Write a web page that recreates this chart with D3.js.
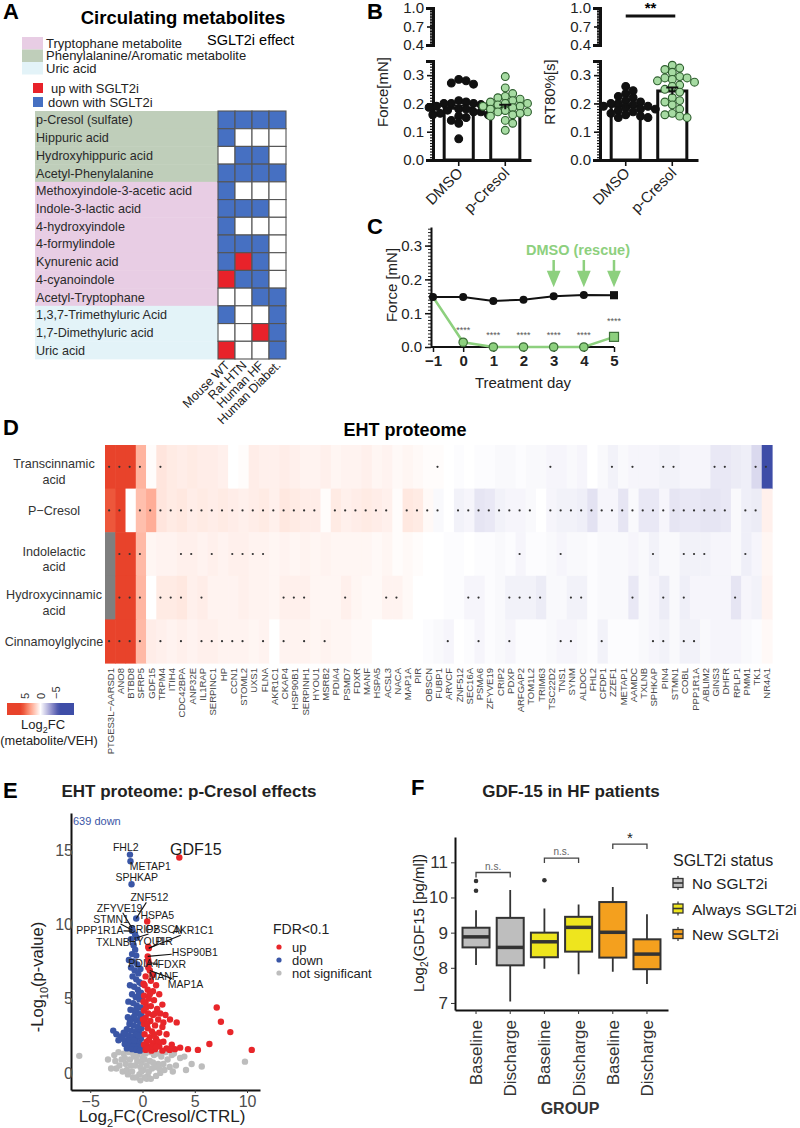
<!DOCTYPE html>
<html>
<head>
<meta charset="utf-8">
<title>Circulating metabolites, EHT proteome, GDF-15</title>
<script src="https://cdn.jsdelivr.net/npm/d3@7"></script>
<style>
  body { margin: 0; background: #fff; }
  svg { display: block; font-family: "Liberation Sans", Arial, Helvetica, sans-serif; }
  .letter { font-size: 22px; font-weight: bold; fill: #000; }
</style>
</head>
<body>
<div id="figure"></div>
<script>
// ---------- A: circulating metabolites ----------
var metabolites = ['p-Cresol (sulfate)', 'Hippuric acid', 'Hydroxyhippuric acid', 'Acetyl-Phenylalanine',
  'Methoxyindole-3-acetic acid', 'Indole-3-lactic acid', '4-hydroxyindole', '4-formylindole',
  'Kynurenic acid', '4-cyanoindole', 'Acetyl-Tryptophane', '1,3,7-Trimethyluric Acid',
  '1,7-Dimethyluric acid', 'Uric acid'];
var metaboliteClass = ['phe', 'phe', 'phe', 'phe', 'trp', 'trp', 'trp', 'trp', 'trp', 'trp', 'trp', 'uric', 'uric', 'uric'];
var classKeys = ['trp', 'phe', 'uric'];
var classNames = ['Tryptophane metabolite', 'Phenylalanine/Aromatic metabolite', 'Uric acid'];
var studies = ['Mouse WT', 'Rat HTN', 'Human HF', 'Human Diabet.'];
// 1 = up with SGLT2i, -1 = down with SGLT2i, 0 = unchanged
var sglt2Effect = [
  [-1, -1, -1, -1],
  [-1, 0, 0, 0],
  [0, -1, -1, 0],
  [-1, -1, -1, -1],
  [-1, 0, 0, 0],
  [-1, -1, -1, 0],
  [-1, 0, 0, 0],
  [-1, -1, -1, 0],
  [-1, 1, -1, 0],
  [1, -1, -1, 0],
  [0, 0, -1, -1],
  [-1, 0, 0, -1],
  [0, 0, 1, -1],
  [1, 0, 0, -1]
];

// ---------- B: p-Cresol on EHT ----------
var bGroups = ['DMSO', 'p-Cresol'];
var forceMean = [0.183, 0.187];
var forceSem = [0.009, 0.008];
var forceDmso = [0.285, 0.28, 0.272, 0.268, 0.21, 0.205, 0.2, 0.2, 0.196, 0.19, 0.186, 0.18, 0.176, 0.17,
  0.165, 0.16, 0.155, 0.15, 0.14, 0.13, 0.075, 0.2, 0.19, 0.18, 0.17, 0.16];
var forceCresol = [0.295, 0.255, 0.235, 0.225, 0.22, 0.215, 0.21, 0.205, 0.2, 0.2, 0.195, 0.19, 0.185,
  0.18, 0.175, 0.17, 0.165, 0.16, 0.155, 0.14, 0.13, 0.105, 0.17, 0.19];
var rt80Mean = [0.19, 0.244];
var rt80Sem = [0.006, 0.012];
var rt80Dmso = [0.26, 0.245, 0.235, 0.225, 0.22, 0.21, 0.205, 0.2, 0.2, 0.195, 0.19, 0.185, 0.18, 0.175,
  0.17, 0.165, 0.16, 0.155, 0.15, 0.15, 0.19, 0.18];
var rt80Cresol = [0.335, 0.325, 0.32, 0.31, 0.295, 0.29, 0.29, 0.285, 0.28, 0.275, 0.265, 0.26, 0.25,
  0.24, 0.22, 0.21, 0.205, 0.195, 0.18, 0.165, 0.16, 0.155, 0.15];

// ---------- C: rescue time course ----------
var days = [-1, 0, 1, 2, 3, 4, 5];
var dmsoForce = [0.148, 0.148, 0.136, 0.14, 0.15, 0.154, 0.153];
var cresolForce = [0.148, 0.014, 0, 0, 0, 0, 0.03];
var cresolStars = ['', '****', '****', '****', '****', '****', '****'];
var rescueDays = [3, 4, 5];

// ---------- D: EHT proteome heatmap ----------
var genes = ['PTGES3L\u2212AARSD1', 'ANO8', 'BTBD8', 'SFRP5', 'GDF15', 'TRPM4', 'ITIH4', 'CDC42BPA', 'ANP32E',
  'IL1RAP', 'SERPINC1', 'HP', 'CCN1', 'STOML2', 'UXS1', 'FLNA', 'AKR1C1', 'CKAP4', 'HSP90B1', 'SERPINH1',
  'HYOU1', 'MSRB2', 'PDIA4', 'PSMD7', 'FDXR', 'MANF', 'HSPA5', 'ACSL3', 'NACA', 'MAP1A', 'PIR', 'OBSCN',
  'FUBP1', 'ARVCF', 'ZNF512', 'SEC16A', 'PSMA6', 'ZFYVE19', 'CRIP2', 'PDXP', 'ARFGAP2', 'TOM1L2', 'TRIM63',
  'TSC22D2', 'TNS1', 'SYNM', 'ALDOC', 'FHL2', 'CFDP1', 'ZZEF1', 'METAP1', 'AAMDC', 'TXLNB', 'SPHKAP', 'PIN4',
  'STMN1', 'COBL', 'PPP1R1A', 'ABLIM2', 'GINS3', 'DHFR', 'RPLP1', 'PMM1', 'TK1', 'NR4A1'];
var heatRows = ['Transcinnamic acid', 'P-Cresol', 'Indolelactic acid', 'Hydroxycinnamic acid', 'Cinnamoylglycine'];
var heatRowLines = [['Transcinnamic', 'acid'], ['P\u2212Cresol'], ['Indolelactic', 'acid'], ['Hydroxycinnamic', 'acid'], ['Cinnamoylglycine']];
var fcTranscinnamic = [6.2, 6.0, 7.0, 2.6, 0.1, 0.9, 0.7, 0.6, 0.7, 0.6, 0.6, 0.5, 0.0, 0.1, 0.6, 0.5, 0.5, 0.6, 0.5, 0.4,
  0.4, 0.5, 0.3, 0.4, 0.4, 0.5, 0.3, 0.4, 0.2, 0.3, 0.2, 0.1, 0.1, 0.0, -0.1, 0.0, -0.1, -0.1, -0.2, -0.2,
  -0.1, -0.2, -0.2, -0.3, -0.3, -0.2, -0.3, 0.0, -0.2, -0.4, -0.2, -0.3, -0.3, -0.3, -0.4, -0.4, -0.3, -0.3, -0.3, -0.7,
  -0.7, -0.6, -0.5, -1.2, -7.0];
var fcCresol = [5.5, 6.5, 0.0, 2.2, 2.8, 0.9, 0.7, 0.8, 0.6, 0.7, 0.6, 0.7, 0.6, 0.5, 0.6, 0.7, 0.5, 0.8, 0.7, 0.6,
  0.6, 0.1, 0.7, 0.5, 0.6, 0.7, 0.6, 0.5, 0.1, 0.8, 0.7, 0.2, -0.2, 0.0, -0.4, -0.3, -0.8, -0.7, -0.4, -0.3,
  -0.3, -0.2, 0.0, -0.3, -0.4, -0.4, -0.5, -0.9, -0.3, -0.3, -0.8, -0.2, -0.7, -0.7, -0.3, -0.8, -0.7, -0.7, -0.8, -0.8,
  -0.7, -0.2, -0.5, -0.6, 0.5];
var fcIndolelactic = [null, 6.2, 6.0, 2.4, 0.3, 0.4, 0.4, 0.5, 0.5, 0.4, 0.5, 0.4, 0.5, 0.5, 0.4, 0.4, 0.3, 0.4, 0.3, 0.4,
  0.3, 0.4, 0.3, 0.3, 0.3, 0.3, 0.2, 0.3, 0.1, 0.2, 0.1, 0.0, 0.0, -0.1, -0.1, 0.0, -0.1, -0.1, -0.2, -0.1,
  -0.3, -0.1, -0.1, -0.2, -0.3, -0.2, -0.2, -0.1, -0.2, -0.2, -0.2, -0.3, -0.2, -0.4, -0.2, -0.2, -0.4, -0.4, -0.4, -0.3,
  -0.3, -0.2, -0.5, -0.3, 0.3];
var fcHydroxycinnamic = [null, 6.3, 7.2, 2.5, 0.0, 0.7, 0.7, 0.8, 0.5, 0.6, 0.4, 0.4, 0.4, 0.5, 0.4, 0.4, 0.3, 0.5, 0.5, 0.5,
  0.3, 0.3, 0.3, 0.5, 0.3, 0.2, 0.2, 0.4, 0.4, 0.2, 0.0, 0.0, 0.0, -0.1, -0.1, -0.3, -0.3, -0.1, -0.2, -0.4,
  -0.4, -0.4, -0.6, -0.2, -0.2, -0.4, -0.4, -0.1, -0.2, -0.2, -0.2, -0.7, -0.2, -0.3, -0.6, -0.2, -0.5, -0.3, -0.3, -0.3,
  -0.3, -0.8, -0.3, -0.4, 0.4];
var fcCinnamoylglycine = [7.0, 7.2, 6.5, 2.4, 0.6, 0.5, 0.4, 0.5, 0.4, 0.5, 0.5, 0.4, 0.4, 0.4, 0.3, 0.4, 0.0, 0.4, 0.4, 0.4,
  0.3, 0.4, 0.3, 0.3, 0.2, 0.2, 0.0, 0.0, 0.0, 0.0, 0.0, -0.1, -0.2, -0.3, 0.0, -0.1, -0.3, -0.1, -0.2, -0.3,
  -0.1, -0.1, -0.1, -0.2, -0.3, -0.3, -0.2, -0.1, -0.4, -0.1, -0.1, -0.1, -0.2, -0.3, -0.4, -0.2, -0.4, -0.4, -0.2, -0.3,
  -0.3, -0.3, -0.2, -0.1, 0.2];
var sigTranscinnamic = [0, 1, 2, 3, 5, 32, 43, 49, 51, 54, 55, 59, 60, 63, 64];
var sigCresol = [0, 1, 3, 4, 5, 6, 7, 8, 9, 10, 11, 12, 13, 14, 15, 16, 17, 18, 19, 20, 22, 23, 24, 25, 26, 27, 29, 30, 31, 32,
  34, 35, 36, 37, 38, 39, 40, 41, 43, 44, 45, 46, 47, 48, 49, 50, 51, 52, 53, 54, 55, 56, 57, 58, 59, 60, 62, 63];
var sigIndolelactic = [1, 2, 3, 7, 8, 10, 12, 13, 14, 15, 40, 44, 53, 56, 57, 58, 62];
var sigHydroxycinnamic = [1, 2, 3, 5, 6, 7, 9, 17, 18, 19, 23, 27, 28, 35, 36, 39, 40, 41, 42, 45, 46, 51, 54, 56, 61];
var sigCinnamoylglycine = [0, 1, 2, 3, 5, 7, 9, 10, 11, 12, 13, 15, 17, 19, 21, 33, 36, 39, 44, 45, 48, 53, 54, 56, 57];
var legendTicks = [5, 0, -5];

// ---------- E: volcano ----------
var upPoints = [[3.52, 14.5], [0.45, 10.2], [0.6, 8.4], [0.55, 8.5], [0.5, 7.85], [0.55, 7.6], [0.6, 7.4], [0.55, 7.1],
  [0.7, 6.9], [1.0, 6.6], [0.3, 6.5], [0.8, 6.2], [1.3, 5.9], [0.2, 5.9], [0.5, 5.6], [1.0, 5.5], [1.6, 5.3],
  [0.15, 5.2], [0.6, 5.0], [1.1, 4.9], [0.3, 4.7], [1.9, 4.6], [0.8, 4.5], [1.4, 4.3], [0.15, 4.2], [0.55, 4.0],
  [1.0, 3.9], [2.2, 3.9], [0.3, 3.7], [1.5, 3.6], [0.75, 3.5], [2.63, 3.6], [3.27, 3.4], [0.15, 3.3], [1.2, 3.2],
  [1.9, 3.1], [0.5, 3.0], [0.9, 2.8], [1.6, 2.7], [2.3, 2.6], [0.2, 2.6], [0.7, 2.4], [1.3, 2.3], [0.4, 2.1],
  [2.0, 2.1], [1.0, 2.0], [0.15, 1.9], [2.8, 1.9], [1.6, 1.8], [0.6, 1.75], [2.3, 1.65], [1.2, 1.6], [0.3, 1.55],
  [3.1, 1.6], [1.9, 1.5], [0.85, 1.5], [2.6, 1.55], [3.6, 1.7], [4.35, 1.6], [5.3, 1.55], [6.4, 1.95], [7.1, 4.4],
  [7.5, 3.45], [8.4, 2.75], [10.45, 1.55], [0.1, 4.8], [0.1, 6.0], [0.05, 3.6], [0.35, 4.4], [0.7, 5.3], [1.2, 4.0],
  [0.45, 3.3], [1.1, 2.6], [0.6, 2.2], [1.5, 2.1], [0.9, 1.8], [0.4, 1.65], [1.7, 4.0], [2.0, 3.4], [1.3, 1.75]];
var downPoints = [[-1.2, 14.7], [-1.15, 14.25], [-1.05, 12.7], [-0.6, 10.4], [-1.0, 9.75], [-0.95, 9.6], [-1.0, 9.55],
  [-0.7, 9.3], [-0.55, 9.1], [-1.1, 9.0], [-0.85, 8.6], [-0.7, 8.3], [-1.0, 8.0], [-0.6, 7.9], [-1.3, 7.6], [-0.9, 7.5],
  [-0.5, 7.3], [-1.1, 7.1], [-0.75, 6.9], [-0.4, 6.7], [-0.95, 6.5], [-0.6, 6.3], [-0.3, 6.1], [-1.2, 5.9], [-0.8, 5.8],
  [-0.45, 5.6], [-0.15, 5.4], [-1.0, 5.3], [-0.65, 5.1], [-0.3, 4.95], [-1.35, 4.8], [-0.9, 4.7], [-0.55, 4.55],
  [-0.15, 4.4], [-1.15, 4.25], [-0.75, 4.15], [-0.4, 4.0], [-0.1, 3.9], [-1.4, 3.75], [-1.0, 3.65], [-0.6, 3.55],
  [-0.25, 3.45], [-1.25, 3.3], [-0.85, 3.2], [-0.45, 3.1], [-0.1, 3.0], [-1.5, 2.95], [-1.1, 2.85], [-0.7, 2.8],
  [-0.3, 2.7], [-1.6, 2.6], [-1.3, 2.5], [-0.9, 2.45], [-0.5, 2.4], [-0.15, 2.3], [-1.45, 2.2], [-1.05, 2.1],
  [-0.65, 2.05], [-0.3, 2.0], [-1.7, 1.95], [-1.25, 1.85], [-0.85, 1.8], [-0.45, 1.75], [-0.1, 1.7], [-1.5, 1.65],
  [-1.0, 1.6], [-0.6, 1.55], [-0.25, 1.5], [-2.8, 2.85], [-2.5, 2.6], [-2.1, 2.45], [-2.3, 2.2], [-1.9, 2.3],
  [-1.8, 2.7], [-0.05, 5.0], [-0.1, 6.0], [-0.2, 7.0], [-0.35, 5.3], [-0.6, 4.3], [-0.8, 3.8], [-0.2, 3.7],
  [-1.2, 3.5], [-0.55, 2.6], [-1.2, 2.2], [-0.8, 2.2], [-0.35, 2.5]];
var nsPoints = [[-6.05, 1.15], [9.8, 0.76], [5.67, 0.43], [4.16, 0.2], [-3.3, 0.9], [-2.7, 1.2], [-2.2, 0.5], [-1.8, 1.3],
  [-1.5, 0.2], [-1.2, 0.9], [-0.9, -0.3], [-0.7, 0.5], [-0.5, 1.2], [-0.3, -0.1], [-0.1, 0.7], [0.1, 0.2], [0.3, 1.3],
  [0.5, -0.2], [0.7, 0.8], [0.9, 0.3], [1.1, 1.2], [1.3, -0.2], [1.5, 0.6], [1.8, 1.1], [2.1, 0.2], [2.4, 0.9],
  [2.8, 1.2], [3.2, 0.5], [3.6, 1.0], [-2.5, 0.3], [-2.0, 0.9], [-1.6, 0.6], [-1.0, 0.1], [-0.8, 1.1], [-0.2, 0.4],
  [0.2, 0.9], [0.4, -0.4], [0.6, 0.1], [1.0, 0.7], [1.4, 1.3], [2.0, 0.6], [2.6, 0.4], [-1.3, 1.4], [-0.4, 1.4],
  [0.8, 1.4], [1.7, 0.0], [-0.6, -0.3], [-1.9, 0.1], [3.0, 1.3], [4.0, 1.1], [-3.0, 0.3], [-0.2, -0.5], [0.2, -0.3],
  [1.2, 0.4], [-1.1, 0.5], [-0.5, 0.8], [0.0, 1.0], [0.4, 0.5], [2.2, 1.4], [-2.3, 1.4], [4.7, 0.6], [-1.4, -0.1],
  [-0.1, 0.1], [0.8, -0.4], [1.6, 0.3], [-0.9, 1.3], [-2.6, 0.8], [2.9, 0.1], [-1.7, 1.0], [0.1, 1.4]];
var volcanoLabels = ['GDF15', 'FHL2', 'METAP1', 'SPHKAP', 'ZNF512', 'ZFYVE19', 'HSPA5', 'STMN1', 'PPP1R1A', 'CRIP2',
  'OBSCN', 'AKR1C1', 'TXLNB', 'HYOU1', 'PIR', 'HSP90B1', 'PDIA4', 'FDXR', 'MANF', 'MAP1A'];
var volcanoLabelPoint = [[3.52, 14.5], [-1.2, 14.7], [-1.15, 14.25], [-1.05, 12.7], [-0.6, 10.4], [-1.0, 9.75],
  [0.45, 10.2], [-0.95, 9.6], [-1.0, 9.55], [-0.7, 9.3], [-0.55, 9.1], [0.6, 8.4], [-1.1, 9.0], [0.55, 8.5],
  [0.6, 8.4], [0.5, 7.85], [0.55, 7.6], [0.6, 7.4], [0.55, 7.1], [0.7, 6.9]];
var volcanoLabelText = [[5.1, 15.05], [-1.6, 15.2], [0.75, 13.9], [-0.55, 13.15], [0.66, 11.8], [-2.19, 11.1],
  [1.41, 10.63], [-3.0, 10.34], [-4.08, 9.58], [0.1, 9.67], [2.06, 9.67], [4.84, 9.58], [-2.84, 8.77], [0.43, 8.84],
  [2.06, 8.84], [5.0, 8.1], [0.1, 7.38], [2.81, 7.34], [2.0, 6.53], [4.12, 5.99]];
var fdrClasses = ['up', 'down', 'not significant'];

// ---------- F: GDF-15 boxplots ----------
var fStatus = ['No SGLT2i', 'No SGLT2i', 'Always SGLT2i', 'Always SGLT2i', 'New SGLT2i', 'New SGLT2i'];
var fTime = ['Baseline', 'Discharge', 'Baseline', 'Discharge', 'Baseline', 'Discharge'];
var fLow = [8.08, 7.04, 7.97, 7.82, 7.89, 7.54];
var fQ1 = [8.58, 8.07, 8.3, 8.46, 8.29, 7.96];
var fMedian = [8.88, 8.58, 8.74, 9.15, 9.01, 8.39];
var fQ3 = [9.14, 9.42, 9.0, 9.45, 9.87, 8.81];
var fHigh = [9.64, 10.21, 9.69, 9.8, 10.3, 9.52];
var fOutliers = [[0, 10.47], [0, 10.19], [2, 10.49]];
var fBrackets = [[0, 1, 'n.s.', 10.71], [2, 3, 'n.s.', 11.12], [4, 5, '*', 11.52]];
var statusNames = ['No SGLT2i', 'Always SGLT2i', 'New SGLT2i'];
var statusColors = ['#BEBEBE', '#EEE51E', '#F4A01E'];

var svg = d3.select('#figure').append('svg').attr('width', 800).attr('height', 1128);

function letter(x, y, t) {
    svg.append('text').attr('class', 'letter').attr('x', x).attr('y', y).text(t);
}

function panelA() {
    var g = svg.append('g');
    letter(3, 19, 'A');
    g.append('text').attr('x', 183).attr('y', 24).attr('text-anchor', 'middle')
        .style('font-size', '18.5px').style('font-weight', 'bold').text('Circulating metabolites');
    g.append('text').attr('x', 207).attr('y', 45).style('font-size', '14.5px').text('SGLT2i effect');

    var classColor = d3.scaleOrdinal().domain(classKeys).range(['#E8CDE4', '#BFCEBA', '#E3F3F8']);
    var yLeg = d3.scaleBand().domain(classKeys).range([37, 74.5]);
    g.selectAll('.cls-key').data(classKeys).enter().append('rect')
        .attr('x', 22).attr('y', d => yLeg(d)).attr('width', 21).attr('height', yLeg.bandwidth())
        .attr('fill', d => classColor(d));
    g.selectAll('.cls-txt').data(classKeys).enter().append('text')
        .attr('x', 46).attr('y', d => yLeg(d) + yLeg.bandwidth() / 2 + 4.5)
        .style('font-size', '13px').attr('fill', '#222')
        .text((d, i) => classNames[i]);

    var effColor = d3.scaleOrdinal().domain([1, -1, 0]).range(['#E8222A', '#4670C2', '#ffffff']);
    g.append('rect').attr('x', 33).attr('y', 83).attr('width', 10).attr('height', 10).attr('fill', effColor(1));
    g.append('text').attr('x', 51).attr('y', 93).style('font-size', '13px').attr('fill', '#222').text('up with SGLT2i');
    g.append('rect').attr('x', 33).attr('y', 97).attr('width', 10).attr('height', 10).attr('fill', effColor(-1));
    g.append('text').attr('x', 48).attr('y', 107).style('font-size', '13px').attr('fill', '#222').text('down with SGLT2i');

    var y = d3.scaleBand().domain(metabolites).range([111, 359]);
    var x = d3.scaleBand().domain(studies).range([218, 286]);

    g.selectAll('.row-bg').data(metabolites).enter().append('rect')
        .attr('x', 35).attr('y', d => y(d)).attr('width', 183).attr('height', y.bandwidth() + 0.4)
        .attr('fill', (d, i) => classColor(metaboliteClass[i]));
    g.selectAll('.row-txt').data(metabolites).enter().append('text')
        .attr('x', 36).attr('y', d => y(d) + y.bandwidth() / 2 + 4.5)
        .style('font-size', '12.6px').attr('fill', '#2a2a2a').text(d => d);

    metabolites.forEach(function(m, i) {
        g.selectAll('.cell-' + i).data(sglt2Effect[i]).enter().append('rect')
            .attr('x', (d, j) => x(studies[j])).attr('y', y(m))
            .attr('width', x.bandwidth()).attr('height', y.bandwidth())
            .attr('fill', d => effColor(d)).attr('stroke', '#555').attr('stroke-width', 1.1);
    });

    g.selectAll('.study').data(studies).enter().append('text')
        .attr('text-anchor', 'end').style('font-size', '12.5px').attr('fill', '#222')
        .attr('transform', d => `translate(${x(d) + x.bandwidth() / 2 + 4},366) rotate(-45)`)
        .text(d => d);
}

function swarm(values, y, cx, r) {
    var placed = [];
    return values.slice().sort(d3.descending).map(function(v) {
        var py = y(v);
        var px = cx;
        for (var k = 0; k < 24; k++) {
            var off = Math.ceil(k / 2) * r * 0.95 * (k % 2 ? 1 : -1);
            var cand = cx + off;
            if (placed.every(p => Math.hypot(p[0] - cand, p[1] - py) >= 2 * r - 1)) { px = cand; break; }
        }
        placed.push([px, py]);
        return [px, py];
    });
}

function barPanel(axisX, label, means, sems, dmso, cresol, signif) {
    var g = svg.append('g');
    var yLow = d3.scaleLinear().domain([0, 0.35]).range([160, 61]);
    var yHigh = d3.scaleLinear().domain([0.4, 1.0]).range([45, 8]);
    var x = d3.scaleBand().domain(bGroups).range([axisX, axisX + 98]).paddingInner(0.375).paddingOuter(0.24);

    function styleAxis(sel) {
        sel.select('.domain').attr('stroke', '#111').attr('stroke-width', 3);
        sel.selectAll('.tick line').attr('stroke', '#111').attr('stroke-width', 1.6);
        sel.selectAll('.tick text').style('font-size', '15px').attr('fill', '#222');
    }
    g.append('g').attr('transform', `translate(${axisX},0)`)
        .call(d3.axisLeft(yLow).tickValues(d3.range(0, 0.351, 0.01)).tickSize(3).tickFormat(''))
        .call(s => s.select('.domain').remove())
        .selectAll('line').attr('stroke', '#111').attr('stroke-width', 1.2);
    g.append('g').attr('transform', `translate(${axisX},0)`)
        .call(d3.axisLeft(yLow).tickValues([0, 0.1, 0.2, 0.3]).tickSize(6).tickSizeOuter(7).tickFormat(d3.format('.1f')))
        .call(styleAxis);
    g.append('g').attr('transform', `translate(${axisX},0)`)
        .call(d3.axisLeft(yHigh).tickValues(d3.range(0.4, 1.001, 0.025)).tickSize(3).tickFormat(''))
        .call(s => s.select('.domain').remove())
        .selectAll('line').attr('stroke', '#111').attr('stroke-width', 1.2);
    g.append('g').attr('transform', `translate(${axisX},0)`)
        .call(d3.axisLeft(yHigh).tickValues([0.4, 0.7, 1.0]).tickSize(6).tickSizeOuter(7).tickFormat(d3.format('.1f')))
        .call(styleAxis);

    g.append('g').attr('transform', 'translate(0,160)')
        .call(d3.axisBottom(x).tickSize(6).tickSizeOuter(0).tickFormat(''))
        .call(styleAxis);
    g.selectAll('.xlab').data(bGroups).enter().append('text')
        .attr('text-anchor', 'end').style('font-size', '15px').attr('fill', '#222')
        .attr('transform', d => `translate(${x(d) + x.bandwidth() / 2 + 5},174) rotate(-45)`)
        .text(d => d);

    g.append('text').attr('text-anchor', 'middle').style('font-size', '15px').attr('fill', '#222')
        .attr('transform', `translate(${axisX - 45},92) rotate(-90)`).text(label);

    g.selectAll('.bar').data(means).enter().append('rect')
        .attr('x', (d, i) => x(bGroups[i])).attr('y', d => yLow(d))
        .attr('width', x.bandwidth()).attr('height', d => yLow(0) - yLow(d))
        .attr('fill', '#fff').attr('stroke', '#111').attr('stroke-width', 3);

    var cols = [dmso, cresol];
    cols.forEach(function(vals, i) {
        var cx = x(bGroups[i]) + x.bandwidth() / 2;
        g.selectAll('.dot' + i).data(swarm(vals, yLow, cx, 3.9)).enter().append('circle')
            .attr('cx', d => d[0]).attr('cy', d => d[1]).attr('r', 3.9)
            .attr('fill', i === 0 ? '#111' : '#A6DBA2')
            .attr('stroke', i === 0 ? '#111' : '#2F5F2F').attr('stroke-width', 1.1);
    });

    means.forEach(function(m, i) {
        var cx = x(bGroups[i]) + x.bandwidth() / 2;
        g.append('path').attr('fill', 'none').attr('stroke', '#111').attr('stroke-width', 2)
            .attr('d', `M${cx},${yLow(m - sems[i])}V${yLow(m + sems[i])}M${cx - 6},${yLow(m + sems[i])}H${cx + 6}`);
    });

    if (signif) {
        var x1 = x(bGroups[0]) + x.bandwidth() / 2, x2 = x(bGroups[1]) + x.bandwidth() / 2 + 3;
        g.append('line').attr('x1', x1).attr('x2', x2).attr('y1', 16).attr('y2', 16)
            .attr('stroke', '#111').attr('stroke-width', 3);
        g.append('text').attr('x', (x1 + x2) / 2).attr('y', 13).attr('text-anchor', 'middle')
            .style('font-size', '15px').style('font-weight', 'bold').text(signif);
    }
}

function panelB() {
    letter(367, 19, 'B');
    barPanel(433, 'Force[mN]', forceMean, forceSem, forceDmso, forceCresol, null);
    barPanel(600, 'RT80%[s]', rt80Mean, rt80Sem, rt80Dmso, rt80Cresol, '**');
}

function panelC() {
    letter(367, 234, 'C');
    var g = svg.append('g');
    var green = '#8DD07E';
    var y = d3.scaleLinear().domain([0, 0.355]).range([347, 227]);
    var x = d3.scaleLinear().domain([-1, 5]).range([433, 614]);

    g.append('g').attr('transform', 'translate(431,0)')
        .call(d3.axisLeft(y).tickValues(d3.range(0, 0.351, 0.01)).tickSize(3).tickFormat(''))
        .call(s => s.select('.domain').remove())
        .selectAll('line').attr('stroke', '#222').attr('stroke-width', 1);
    var ya = g.append('g').attr('transform', 'translate(431,0)')
        .call(d3.axisLeft(y).tickValues([0, 0.1, 0.2, 0.3]).tickSize(6).tickSizeOuter(0).tickFormat(d3.format('.1f')));
    ya.select('.domain').attr('stroke', '#111').attr('stroke-width', 2);
    ya.selectAll('.tick line').attr('stroke', '#111').attr('stroke-width', 1.5);
    ya.selectAll('.tick text').style('font-size', '15px').attr('fill', '#222');

    var xa = g.append('g').attr('transform', 'translate(0,347)')
        .call(d3.axisBottom(x).tickValues(days).tickSize(5).tickSizeOuter(0).tickFormat(d3.format('d')));
    xa.select('.domain').attr('stroke', '#111').attr('stroke-width', 2).attr('d', 'M431,0H614');
    xa.selectAll('.tick line').attr('stroke', '#111').attr('stroke-width', 1.5);
    xa.selectAll('.tick text').style('font-size', '15px').style('font-weight', 'bold').attr('fill', '#222');

    g.append('text').attr('text-anchor', 'middle').style('font-size', '15px').attr('fill', '#222')
        .attr('transform', 'translate(397,285) rotate(-90)').text('Force [mN]');
    g.append('text').attr('x', 523).attr('y', 388).attr('text-anchor', 'middle')
        .style('font-size', '15px').attr('fill', '#222').text('Treatment day');

    var line = d3.line().x((d, i) => x(days[i])).y(d => y(d));
    g.append('path').datum(cresolForce).attr('d', line).attr('fill', 'none').attr('stroke', green).attr('stroke-width', 2.5);
    g.append('path').datum(dmsoForce).attr('d', line).attr('fill', 'none').attr('stroke', '#111').attr('stroke-width', 2);

    var last = days.length - 1;
    g.append('path').attr('stroke', '#111').attr('stroke-width', 2)
        .attr('d', `M${x(5)},${y(dmsoForce[last] - 0.008)}V${y(dmsoForce[last] + 0.008)}M${x(5) - 4},${y(dmsoForce[last] + 0.008)}H${x(5) + 4}M${x(5) - 4},${y(dmsoForce[last] - 0.008)}H${x(5) + 4}`);
    g.selectAll('.dm').data(dmsoForce.slice(0, last)).enter().append('circle')
        .attr('cx', (d, i) => x(days[i])).attr('cy', d => y(d)).attr('r', 4).attr('fill', '#111');
    g.append('rect').attr('x', x(5) - 4).attr('y', y(dmsoForce[last]) - 4).attr('width', 8).attr('height', 8).attr('fill', '#111');

    g.selectAll('.cr').data(cresolForce.slice(1, last)).enter().append('circle')
        .attr('cx', (d, i) => x(days[i + 1])).attr('cy', d => y(d)).attr('r', 4.2)
        .attr('fill', green).attr('stroke', '#3C6E37').attr('stroke-width', 1.2);
    g.append('rect').attr('x', x(5) - 4.5).attr('y', y(cresolForce[last]) - 4.5).attr('width', 9).attr('height', 9)
        .attr('fill', green).attr('stroke', '#3C6E37').attr('stroke-width', 1.2);

    g.selectAll('.stars').data(cresolStars).enter().append('text')
        .attr('x', (d, i) => x(days[i])).attr('y', (d, i) => y(cresolForce[i]) - (i === last ? 13 : 9))
        .attr('text-anchor', 'middle').style('font-size', '9px').attr('fill', '#555').text(d => d);

    g.append('text').attr('x', 578).attr('y', 255).attr('text-anchor', 'middle')
        .style('font-size', '14.5px').style('font-weight', 'bold').attr('fill', green).text('DMSO (rescue)');
    g.selectAll('.arrow').data(rescueDays).enter().append('path')
        .attr('fill', green).attr('stroke', green).attr('stroke-width', 2.5)
        .attr('d', d => `M${x(d)},260V273M${x(d) - 5},272L${x(d) + 5},272L${x(d)},284Z`);
}

function panelD() {
    letter(3, 435, 'D');
    var g = svg.append('g');
    g.append('text').attr('x', 405).attr('y', 436).attr('text-anchor', 'middle')
        .style('font-size', '18px').style('font-weight', 'bold').text('EHT proteome');

    var values = [fcTranscinnamic, fcCresol, fcIndolelactic, fcHydroxycinnamic, fcCinnamoylglycine];
    var sig = [sigTranscinnamic, sigCresol, sigIndolelactic, sigHydroxycinnamic, sigCinnamoylglycine];
    var x = d3.scaleBand().domain(genes).range([105, 772]);
    var y = d3.scaleBand().domain(heatRows).range([445, 663]);
    var color = d3.scaleLinear().domain([-6, 0, 6]).range(['#3E4DA7', '#ffffff', '#E8432B'])
        .interpolate(d3.interpolateLab).clamp(true);

    heatRows.forEach(function(r, i) {
        g.selectAll('.c' + i).data(values[i]).enter().append('rect')
            .attr('x', (d, j) => x(genes[j])).attr('y', y(r))
            .attr('width', x.bandwidth() + 0.6).attr('height', y.bandwidth() + 0.6)
            .attr('fill', d => d === null ? '#7F7F7F' : color(d));
        g.selectAll('.s' + i).data(sig[i]).enter().append('circle')
            .attr('cx', d => x(genes[d]) + x.bandwidth() / 2 - 1).attr('cy', y(r) + y.bandwidth() / 2)
            .attr('r', 1.1).attr('fill', '#333');
    });

    heatRowLines.forEach(function(lines, i) {
        var cy = y(heatRows[i]) + y.bandwidth() / 2;
        var t = g.append('text').attr('text-anchor', 'middle').style('font-size', '12.6px').attr('fill', '#333');
        lines.forEach(function(l, k) {
            t.append('tspan').attr('x', 54).attr('y', cy + 4.5 + (lines.length > 1 ? -3 + k * 15.5 : 0)).text(l);
        });
    });

    g.selectAll('.gene').data(genes).enter().append('text')
        .attr('text-anchor', 'end').style('font-size', '9.5px').attr('fill', '#4a4a4a')
        .attr('transform', d => `translate(${x(d) + x.bandwidth() / 2 + 3.5},668) rotate(-90)`)
        .text(d => d);

    // colour bar legend (high values on the left)
    var xLeg = d3.scaleLinear().domain([5, -5]).range([25, 56]);
    var grad = svg.append('defs').append('linearGradient').attr('id', 'fcgrad');
    d3.range(0, 1.001, 0.05).forEach(function(t) {
        grad.append('stop').attr('offset', t).attr('stop-color', color(xLeg.invert(7 + 67 * t)));
    });
    g.append('rect').attr('x', 7).attr('y', 703).attr('width', 67).attr('height', 12).attr('fill', 'url(#fcgrad)');
    g.selectAll('.legtick').data(legendTicks).enter().append('text')
        .attr('transform', d => `translate(${xLeg(d) + 4},699) rotate(-90)`)
        .style('font-size', '11px').attr('fill', '#333').text(d => d < 0 ? '\u2212' + (-d) : d);
    var lt = g.append('text').attr('x', 43).attr('y', 729).attr('text-anchor', 'middle').style('font-size', '13px').attr('fill', '#222');
    lt.append('tspan').text('Log');
    lt.append('tspan').attr('dy', 4).style('font-size', '9px').text('2');
    lt.append('tspan').attr('dy', -4).text('FC');
    g.append('text').attr('x', 49).attr('y', 745).attr('text-anchor', 'middle')
        .style('font-size', '12.8px').attr('fill', '#222').text('(metabolite/VEH)');
}

function panelE() {
    letter(3, 798, 'E');
    var g = svg.append('g');
    g.append('text').attr('x', 189).attr('y', 797).attr('text-anchor', 'middle')
        .style('font-size', '17px').style('font-weight', 'bold').attr('fill', '#222').text('EHT proteome: p-Cresol effects');

    var x = d3.scaleLinear().domain([-6.84, 11.24]).range([71, 260]);
    var y = d3.scaleLinear().domain([-1.15, 17.5]).range([1090, 813]);
    var fdrColor = d3.scaleOrdinal().domain(fdrClasses).range(['#E8262A', '#3A56A6', '#BDBDBD']);

    [[nsPoints, 'not significant'], [downPoints, 'down'], [upPoints, 'up']].forEach(function(set) {
        g.selectAll(null).data(set[0]).enter().append('circle')
            .attr('cx', d => x(d[0])).attr('cy', d => y(d[1])).attr('r', 3.2).attr('fill', fdrColor(set[1]));
    });

    var xa = g.append('g').attr('transform', 'translate(0,1090)')
        .call(d3.axisBottom(x).tickValues([-5, 0, 5, 10]).tickSize(3).tickSizeOuter(0));
    var ya = g.append('g').attr('transform', 'translate(71,0)')
        .call(d3.axisLeft(y).tickValues([0, 5, 10, 15]).tickSize(0).tickSizeOuter(0).tickPadding(-2));
    [xa, ya].forEach(function(a) {
        a.select('.domain').attr('stroke', '#111').attr('stroke-width', 2);
        a.selectAll('.tick line').attr('stroke', '#333');
        a.selectAll('.tick text').style('font-size', '16px').attr('fill', '#4d4d4d');
    });

    var xt = g.append('text').attr('x', 162).attr('y', 1122).attr('text-anchor', 'middle').style('font-size', '17px').attr('fill', '#222');
    xt.append('tspan').text('Log');
    xt.append('tspan').attr('dy', 5).style('font-size', '11px').text('2');
    xt.append('tspan').attr('dy', -5).text('FC(Cresol/CTRL)');
    var yt = g.append('text').attr('text-anchor', 'middle').style('font-size', '16.5px').attr('fill', '#222')
        .attr('transform', 'translate(43,977) rotate(-90)');
    yt.append('tspan').text('-Log');
    yt.append('tspan').attr('dy', 5).style('font-size', '11px').text('10');
    yt.append('tspan').attr('dy', -5).text('(p-value)');

    g.append('text').attr('x', 73).attr('y', 825).style('font-size', '11px').attr('fill', '#3A56A6').text('639 down');

    var segs = g.append('g');
    volcanoLabels.forEach(function(name, i) {
        var t = g.append('text').attr('x', x(volcanoLabelText[i][0])).attr('y', y(volcanoLabelText[i][1]))
            .attr('dy', '0.35em').attr('text-anchor', 'middle')
            .style('font-size', name === 'GDF15' ? '16px' : '10.5px').attr('fill', '#1a1a1a').text(name);
        var bb = t.node().getBBox();
        var px = x(volcanoLabelPoint[i][0]), py = y(volcanoLabelPoint[i][1]);
        var cx = bb.x + bb.width / 2, cy = bb.y + bb.height / 2;
        var dx = px - cx, dy = py - cy;
        var s = Math.min(dx === 0 ? Infinity : (bb.width / 2) / Math.abs(dx), dy === 0 ? Infinity : (bb.height / 2 - 1) / Math.abs(dy));
        if (s < 1) {
            var ex = cx + dx * s, ey = cy + dy * s;
            if (Math.hypot(px - ex, py - ey) > 7) {
                segs.append('line').attr('x1', ex).attr('y1', ey).attr('x2', px).attr('y2', py)
                    .attr('stroke', '#111').attr('stroke-width', 1.1);
            }
        }
    });

    g.append('text').attr('x', 273).attr('y', 934).style('font-size', '14px').attr('fill', '#222').text('FDR<0.1');
    g.selectAll('.lk').data(fdrClasses).enter().append('circle')
        .attr('cx', 279).attr('cy', (d, i) => 947 + i * 13).attr('r', 2.6).attr('fill', d => fdrColor(d));
    g.selectAll('.lt').data(fdrClasses).enter().append('text')
        .attr('x', 292).attr('y', (d, i) => 951.5 + i * 13).style('font-size', '13px').attr('fill', '#222').text(d => d);
}

function panelF() {
    letter(411, 795, 'F');
    var g = svg.append('g');
    g.append('text').attr('x', 571).attr('y', 797).attr('text-anchor', 'middle')
        .style('font-size', '17px').style('font-weight', 'bold').attr('fill', '#222').text('GDF-15 in HF patients');

    var ids = fStatus.map((s, i) => s + '|' + fTime[i]);
    var x = d3.scaleBand().domain(ids).range([455, 668]).paddingInner(0.21).paddingOuter(0.22);
    var y = d3.scaleLinear().domain([6.8, 11.72]).range([1010, 837]);
    var fill = d3.scaleOrdinal().domain(statusNames).range(statusColors);

    ids.forEach(function(id, i) {
        var x0 = x(id), w = x.bandwidth(), cx = x0 + w / 2;
        g.append('path').attr('stroke', '#333').attr('stroke-width', 1.8)
            .attr('d', `M${cx},${y(fLow[i])}V${y(fQ1[i])}M${cx},${y(fQ3[i])}V${y(fHigh[i])}`);
        g.append('rect').attr('x', x0).attr('y', y(fQ3[i])).attr('width', w).attr('height', y(fQ1[i]) - y(fQ3[i]))
            .attr('fill', fill(fStatus[i])).attr('stroke', '#333').attr('stroke-width', 2);
        g.append('line').attr('x1', x0).attr('x2', x0 + w).attr('y1', y(fMedian[i])).attr('y2', y(fMedian[i]))
            .attr('stroke', '#333').attr('stroke-width', 3.5);
    });
    g.selectAll('.out').data(fOutliers).enter().append('circle')
        .attr('cx', d => x(ids[d[0]]) + x.bandwidth() / 2).attr('cy', d => y(d[1])).attr('r', 2.3).attr('fill', '#333');

    fBrackets.forEach(function(b) {
        var x1 = x(ids[b[0]]) + x.bandwidth() / 2, x2 = x(ids[b[1]]) + x.bandwidth() / 2, yb = y(b[3]);
        g.append('path').attr('fill', 'none').attr('stroke', '#444').attr('stroke-width', 1.3)
            .attr('d', `M${x1},${yb + 5}V${yb}H${x2}V${yb + 5}`);
        g.append('text').attr('x', (x1 + x2) / 2).attr('y', b[2] === '*' ? yb - 1 : yb - 3).attr('text-anchor', 'middle')
            .style('font-size', b[2] === '*' ? '15px' : '10px').attr('fill', b[2] === '*' ? '#222' : '#666').text(b[2]);
    });

    var ya = g.append('g').attr('transform', 'translate(455,0)')
        .call(d3.axisLeft(y).tickValues([7, 8, 9, 10, 11]).tickSize(4).tickSizeOuter(0).tickFormat(d3.format('d')));
    var xa = g.append('g').attr('transform', 'translate(0,1010)')
        .call(d3.axisBottom(x).tickSize(4).tickSizeOuter(0).tickFormat(''));
    [xa, ya].forEach(function(a) {
        a.select('.domain').attr('stroke', '#111').attr('stroke-width', 2);
        a.selectAll('.tick line').attr('stroke', '#333');
        a.selectAll('.tick text').style('font-size', '17px').attr('fill', '#333');
    });
    g.selectAll('.xl').data(ids).enter().append('text')
        .attr('text-anchor', 'end').attr('dy', '0.35em').style('font-size', '17px').attr('fill', '#333')
        .attr('transform', d => `translate(${x(d) + x.bandwidth() / 2},1020) rotate(-90)`)
        .text((d, i) => fTime[i]);
    g.append('text').attr('x', 570).attr('y', 1114).attr('text-anchor', 'middle')
        .style('font-size', '16px').style('font-weight', 'bold').attr('fill', '#333').text('GROUP');

    var yt = g.append('text').attr('text-anchor', 'middle').style('font-size', '15px').attr('fill', '#222')
        .attr('transform', 'translate(424,923) rotate(-90)');
    yt.append('tspan').text('Log');
    yt.append('tspan').attr('dy', 4).style('font-size', '10px').text('2');
    yt.append('tspan').attr('dy', -4).text('(GDF15 [pg/ml])');

    g.append('text').attr('x', 673).attr('y', 866).style('font-size', '16px').attr('fill', '#222').text('SGLT2i status');
    statusNames.forEach(function(s, i) {
        var cy = 883 + i * 25.5;
        g.append('path').attr('stroke', '#333').attr('stroke-width', 1.2).attr('d', `M678,${cy - 7}V${cy + 7}`);
        g.append('rect').attr('x', 673).attr('y', cy - 4.5).attr('width', 10).attr('height', 9)
            .attr('fill', fill(s)).attr('stroke', '#333').attr('stroke-width', 1.3);
        g.append('line').attr('x1', 673).attr('x2', 683).attr('y1', cy).attr('y2', cy).attr('stroke', '#333').attr('stroke-width', 1.6);
        g.append('text').attr('x', 692).attr('y', cy + 6).style('font-size', '15.5px').attr('fill', '#222').text(s);
    });
}

panelA();
panelB();
panelC();
panelD();
panelE();
panelF();
</script>
</body>
</html>
